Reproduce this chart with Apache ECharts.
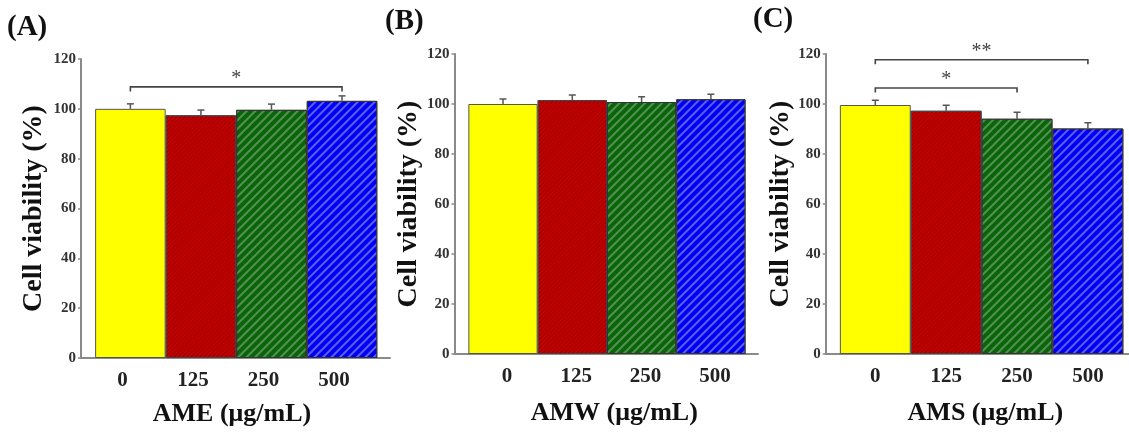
<!DOCTYPE html>
<html><head><meta charset="utf-8">
<script src="https://cdn.jsdelivr.net/npm/echarts@6/dist/echarts.min.js"></script>
<style>html,body{margin:0;padding:0;background:#fff}#c{width:1129px;height:432px}</style>
</head><body><div id="c"></div>
<script>
// ---- data ----
const categories = ['0', '125', '250', '500'];
const ameMean = [100.0, 97.4, 99.6, 103.2];
const ameErr  = [2.0, 2.1, 2.3, 2.0];
const amwMean = [100.0, 101.6, 100.8, 101.9];
const amwErr  = [2.0, 2.0, 2.1, 2.0];
const amsMean = [99.6, 97.3, 94.1, 90.2];
const amsErr  = [1.9, 2.2, 2.6, 2.3];
const yTickValues = [0, 20, 40, 60, 80, 100, 120];
const panelLabels = ['(A)', '(B)', '(C)'];
const xTitles = ['AME (μg/mL)', 'AMW (μg/mL)', 'AMS (μg/mL)'];
const yTitle = 'Cell viability (%)';
const sigAFrom = [0], sigATo = [3], sigAY = [108.8], sigALabel = ['*'];
const sigBFrom = [], sigBTo = [], sigBY = [], sigBLabel = [];
const sigCFrom = [0, 0], sigCTo = [2, 3], sigCY = [106.4, 117.7], sigCLabel = ['*', '**'];

// ---- styles ----
const FONT = "'Liberation Serif','Times New Roman',serif";
const barStyles = [
  { color: '#ffff00', borderColor: '#555', borderWidth: 1 },
  { color: '#c40000', borderColor: '#444', borderWidth: 1,
    decal: { symbol: 'rect', symbolSize: 1, dashArrayX: [1, 0], dashArrayY: [1, 2], rotation: -Math.PI / 4, color: 'rgba(120,0,0,0.55)' } },
  { color: '#0a640a', borderColor: '#333', borderWidth: 1,
    decal: { symbol: 'rect', symbolSize: 1, dashArrayX: [1, 0], dashArrayY: [1.5, 3.5], rotation: -Math.PI / 4, color: 'rgba(110,160,110,0.75)' } },
  { color: '#0000f0', borderColor: '#333', borderWidth: 1,
    decal: { symbol: 'rect', symbolSize: 1, dashArrayX: [1, 0], dashArrayY: [1.5, 4], rotation: -Math.PI / 4, color: 'rgba(110,110,255,0.85)' } }
];

const panels = [
  { mean: ameMean, err: ameErr, sf: sigAFrom, st: sigATo, sy: sigAY, sl: sigALabel,
    left: 81, width: 309, top: 59, height: 300, xmin: -0.7, xmax: 3.68,
    lblPad: [0, 16, 0, 0], namePad: [0, 7, 0, 0], nameGap: 43, yNameGap: 33,
    title: { left: 7, top: 13 } },
  { mean: amwMean, err: amwErr, sf: sigBFrom, st: sigBTo, sy: sigBY, sl: sigBLabel,
    left: 454.5, width: 303.5, top: 54, height: 300, xmin: -0.7, xmax: 3.68,
    lblPad: [0, 0, 0, 8], namePad: [0, 0, 0, 16], nameGap: 46, yNameGap: 30,
    title: { left: 385, top: 7 } },
  { mean: amsMean, err: amsErr, sf: sigCFrom, st: sigCTo, sy: sigCY, sl: sigCLabel,
    left: 825.7, width: 303.3, top: 54, height: 300, xmin: -0.7, xmax: 3.58,
    lblPad: [0, 0, 0, 0], namePad: [0, 0, 0, 16], nameGap: 46, yNameGap: 31,
    title: { left: 753, top: 5 } }
];

function errRender(params, api) {
  const base = api.coord([api.value(0), api.value(1)]);
  const top = api.coord([api.value(0), api.value(1) + api.value(2)]);
  const w = 3.5;
  return { type: 'group', children: [
    { type: 'line', shape: { x1: base[0], y1: base[1], x2: top[0], y2: top[1] }, style: { stroke: '#555', lineWidth: 1.5 } },
    { type: 'line', shape: { x1: top[0] - w, y1: top[1], x2: top[0] + w, y2: top[1] }, style: { stroke: '#555', lineWidth: 1.5 } }
  ] };
}
function bracketRender(labels) {
  return function (params, api) {
    const a = api.coord([api.value(0), api.value(2)]);
    const b = api.coord([api.value(1), api.value(2)]);
    const d = 4.5;
    return { type: 'group', children: [
      { type: 'polyline', shape: { points: [[a[0], a[1] + d], [a[0], a[1]], [b[0], b[1]], [b[0], b[1] + d]] },
        style: { stroke: '#444', lineWidth: 1.6, fill: 'none' } },
      { type: 'text', x: (a[0] + b[0]) / 2, y: a[1] - 8,
        style: { text: labels[params.dataIndex], fill: '#444', font: '20px ' + FONT, align: 'center', verticalAlign: 'middle' } }
    ] };
  };
}

const option = { animation: false, backgroundColor: '#fff', grid: [], xAxis: [], yAxis: [], series: [], title: [] };
panels.forEach((p, k) => {
  option.title.push({ text: panelLabels[k], left: p.title.left, top: p.title.top, padding: 0,
    textStyle: { fontFamily: FONT, fontWeight: 'bold', fontSize: 29, color: '#111' } });
  option.grid.push({ left: p.left, top: p.top, width: p.width, height: p.height });
  option.xAxis.push({ type: 'value', gridIndex: k, min: p.xmin, max: p.xmax,
    splitLine: { show: false }, axisTick: { show: false },
    axisLine: { show: true, onZero: false, lineStyle: { color: '#8a8a8a', width: 2 } },
    axisLabel: { customValues: [0, 1, 2, 3], formatter: v => categories[Math.round(v)] ?? '',
      fontFamily: FONT, fontWeight: 'bold', fontSize: 21, color: '#222', margin: 12, padding: p.lblPad },
    name: xTitles[k], nameLocation: 'middle', nameGap: p.nameGap,
    nameTextStyle: { fontFamily: FONT, fontWeight: 'bold', fontSize: 26, color: '#111', padding: p.namePad } });
  option.yAxis.push({ type: 'value', gridIndex: k, min: 0, max: 120, interval: 20,
    splitLine: { show: false },
    axisLine: { show: true, onZero: false, lineStyle: { color: '#8a8a8a', width: 2 } },
    axisTick: { show: true, length: 3, lineStyle: { color: '#8a8a8a', width: 1.5 } },
    axisLabel: { fontFamily: FONT, fontWeight: 'bold', fontSize: 15, color: '#333', margin: 5,
      formatter: v => yTickValues.includes(v) ? String(v) : '' },
    name: yTitle, nameLocation: 'middle', nameGap: p.yNameGap, nameRotate: 90,
    nameTextStyle: { fontFamily: FONT, fontWeight: 'bold', fontSize: 28, color: '#111' } });
  const bw = p.width / (p.xmax - p.xmin);
  option.series.push({ type: 'bar', xAxisIndex: k, yAxisIndex: k, barWidth: bw, barGap: '0%', z: 2,
    data: categories.map((c, i) => ({ value: [i, p.mean[i]], itemStyle: barStyles[i] })) });
  option.series.push({ type: 'custom', xAxisIndex: k, yAxisIndex: k, z: 4, renderItem: errRender,
    encode: { x: 0, y: 1 }, data: p.mean.map((m, i) => [i, m, p.err[i]]) });
  if (p.sf.length) {
    option.series.push({ type: 'custom', xAxisIndex: k, yAxisIndex: k, z: 4, renderItem: bracketRender(p.sl),
      encode: { x: [0, 1], y: 2 }, data: p.sf.map((f, i) => [f, p.st[i], p.sy[i]]) });
  }
});
const chart = echarts.init(document.getElementById('c'), null, { renderer: 'canvas' });
chart.setOption(option);
</script></body></html>
